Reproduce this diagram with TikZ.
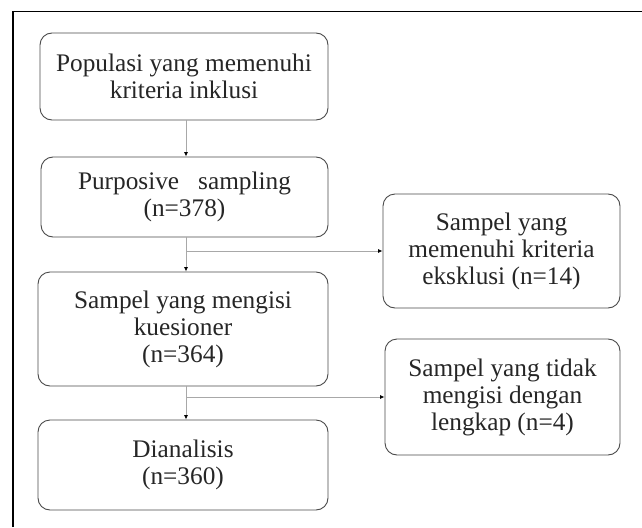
\documentclass[tikz,border=0pt]{standalone}
\usepackage{fontspec}
\setmainfont{Liberation Serif}
\usetikzlibrary{arrows.meta}
\definecolor{boxline}{HTML}{4A4A4A}
\definecolor{connline}{HTML}{A8A8A8}
\tikzset{
  box/.style={draw=boxline, line width=0.9pt, rounded corners=12pt, align=center,
    inner sep=0pt, font=\fontsize{25.3}{27}\selectfont, text=black!85},
  conn/.style={draw=connline, line width=0.8pt, -{Latex[length=4.5pt,width=4pt,color=black]}},
}
\begin{document}
\begin{tikzpicture}[x=1pt,y=-1pt]
\useasboundingbox (0,0) rectangle (642,527);
\draw[line width=1.2pt, black] (13,527) -- (13,11.5) -- (642,11.5);
\node[box, minimum width=288pt, minimum height=87pt] (b1) at (184,76.5) {Populasi yang memenuhi\\kriteria inklusi};
\node[box, minimum width=287pt, minimum height=80pt] (b2) at (184.5,197) {Purposive\ \ \ sampling\\(n=378)};
\node[box, minimum width=290pt, minimum height=114pt] (b3) at (183,329) {Sampel yang mengisi\\kuesioner\\(n=364)};
\node[box, minimum width=290pt, minimum height=90pt] (b4) at (183,465) {Dianalisis\\(n=360)};
\node[box, minimum width=237pt, minimum height=114pt] (b5) at (501.5,251) {Sampel yang\\memenuhi kriteria\\eksklusi (n=14)};
\node[box, minimum width=235pt, minimum height=116pt] (b6) at (502.5,397) {Sampel yang tidak\\mengisi dengan\\lengkap (n=4)};
\coordinate (j1) at (186,251);
\coordinate (j2) at (186,397);
\draw[conn] (b1.south -| j1) -- (b2.north -| j1);
\draw[conn] (b2.south -| j1) -- (b3.north -| j1);
\draw[conn] (b3.south -| j2) -- (b4.north -| j2);
\draw[conn] (j1) -- (b5.west);
\draw[conn] (j2) -- (b6.west);
\end{tikzpicture}
\end{document}
